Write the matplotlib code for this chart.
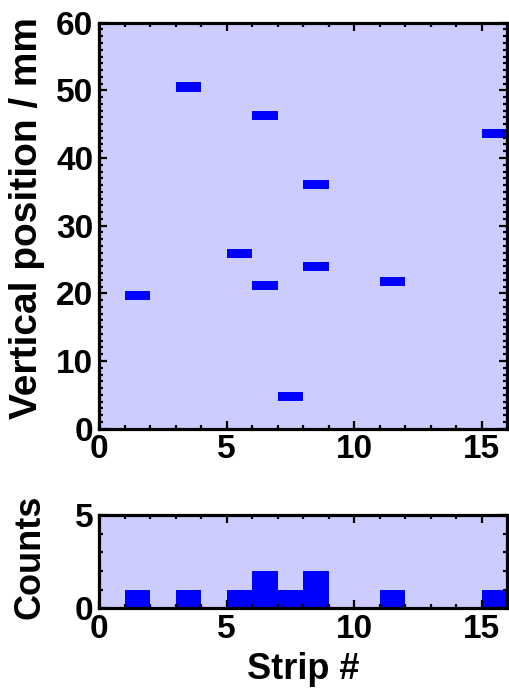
import numpy as np
import matplotlib
matplotlib.use('Agg')
import matplotlib.pyplot as plt
from matplotlib.ticker import MultipleLocator

plt.rcParams['font.family'] = ['Liberation Sans', 'DejaVu Sans']
plt.rcParams['font.weight'] = 'bold'

# hit strip number (left edge of strip) and vertical position in mm
strips = [1, 3, 5, 6, 6, 7, 8, 8, 11, 15]
positions = [19.7, 50.5, 25.85, 46.3, 21.1, 4.75, 36.1, 24.0, 21.8, 43.6]

bar_h = 1.35
bg = '#ccccff'
blue = '#0000ff'

fig = plt.figure(figsize=(5.09, 6.90), dpi=100)
ax1 = fig.add_axes([0.1945, 0.3787, 0.8016, 0.5884])
ax2 = fig.add_axes([0.1945, 0.1184, 0.8016, 0.1352])

# top: one short bar per hit, strip wide
ax1.bar(strips, bar_h, bottom=np.array(positions) - bar_h / 2, width=1,
        align='edge', color=blue, linewidth=0)
ax1.set_xlim(0, 16)
ax1.set_ylim(0, 60)
ax1.xaxis.set_major_locator(MultipleLocator(5))
ax1.xaxis.set_minor_locator(MultipleLocator(1))
ax1.yaxis.set_major_locator(MultipleLocator(10))
ax1.yaxis.set_minor_locator(MultipleLocator(1))
ax1.set_ylabel('Vertical position / mm', fontsize=28, fontweight='bold')
ax1.yaxis.set_label_coords(-0.132, 0.518)

# bottom: hits per strip
ax2.hist(strips, bins=np.arange(0, 17), color=blue, linewidth=0)
ax2.set_xlim(0, 16)
ax2.set_ylim(0, 5)
ax2.xaxis.set_major_locator(MultipleLocator(5))
ax2.xaxis.set_minor_locator(MultipleLocator(1))
ax2.yaxis.set_major_locator(MultipleLocator(5))
ax2.yaxis.set_minor_locator(MultipleLocator(1))
ax2.set_xlabel('Strip #', fontsize=26, fontweight='bold', labelpad=5)
ax2.set_ylabel('Counts', fontsize=26, fontweight='bold')
ax2.yaxis.set_label_coords(-0.125, 0.55)

for ax in (ax1, ax2):
    ax.set_facecolor(bg)
    for s in ax.spines.values():
        s.set_linewidth(2.3)
    ax.tick_params(which='both', direction='in', top=True, right=True,
                   width=1.6, labelsize=24, pad=4)
    ax.tick_params(which='major', length=5.5)
    ax.tick_params(which='minor', length=2.8)
    for lab in ax.get_xticklabels() + ax.get_yticklabels():
        lab.set_fontweight('bold')

fig.savefig('out.png', dpi=100)
